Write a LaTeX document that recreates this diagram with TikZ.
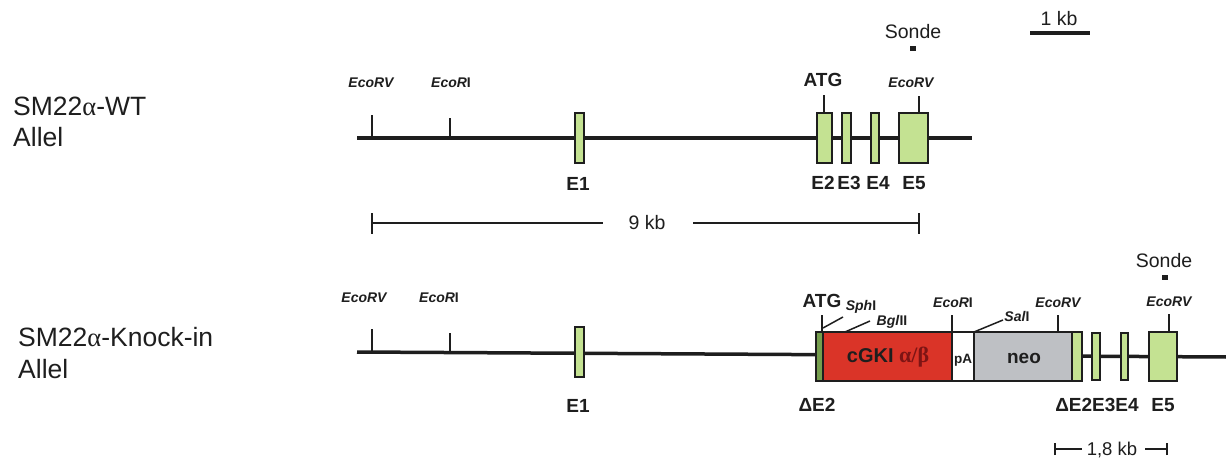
\documentclass[tikz,border=0pt]{standalone}
\usepackage{fontspec}
\setmainfont{Liberation Sans}
\newfontfamily\grk{Liberation Serif}
\definecolor{exg}{RGB}{196,226,146}
\definecolor{exdk}{RGB}{118,158,78}
\definecolor{cgred}{RGB}{218,52,40}
\definecolor{neog}{RGB}{190,192,196}
\definecolor{abred}{RGB}{125,20,20}
\definecolor{txt}{RGB}{30,30,30}
\tikzset{
  dna/.style={line width=3.5pt, draw=txt},
  tick/.style={line width=1.5pt, draw=txt},
  sbar/.style={line width=1.5pt, draw=txt},
  box/.style={draw=txt, line width=1.8pt, inner sep=0pt, outer sep=0pt},
  exon/.style={box, fill=exg},
  exdark/.style={box, fill=exdk},
  lab/.style={font=\fontsize{26.5}{30}\selectfont, anchor=base west, inner sep=0pt, text=txt},
  enz/.style={font=\fontsize{14}{16}\selectfont\bfseries\itshape, anchor=base, inner sep=0pt, text=txt},
  exl/.style={font=\fontsize{19}{22}\selectfont\bfseries, anchor=base, inner sep=0pt, text=txt},
  scl/.style={font=\fontsize{19.5}{22}\selectfont, anchor=base, inner sep=0pt, text=txt},
  probe/.style={fill=txt, inner sep=0pt, minimum width=6pt, minimum height=5pt}
}
\begin{document}
\begin{tikzpicture}[x=1pt,y=-1pt]
\useasboundingbox[fill=white] (0,0) rectangle (1226,470);

% ---------------- left labels
\node[lab] (wt1) at (13,116) {SM22{\grk α}-WT};
\node[lab] (wt2) at (13,147) {Allel};
\node[lab] (ki1) at (18,346) {SM22{\grk α}-Knock-in};
\node[lab] (ki2) at (18,378) {Allel};

% ---------------- scale 1 kb
\node[scl] (kb1) at (1059,26) {1 kb};
\coordinate (kbL) at (1030,33);
\coordinate (kbR) at (1090,33);
\draw[line width=4pt, draw=txt] (kbL) -- (kbR);

% ================= WT allele
\coordinate (wtL) at (357,138);
\coordinate (wtR) at (972,138);
\draw[dna] (wtL) -- (wtR);
% restriction sites
\coordinate (wtRV1) at (372,138);
\coordinate (wtRI1) at (450,138);
\draw[tick] (wtRV1) -- ++(0,-23);
\draw[tick] (wtRI1) -- ++(0,-20);
\node[enz] (wtRV1l) at (371,88) {EcoRV};
\node[enz] (wtRI1l) at (451,88) {EcoR\textup{I}};
% exons
\node[exon, minimum width=9pt, minimum height=50pt] (we1) at (579.5,138) {};
\node[exon, minimum width=15pt, minimum height=50pt] (we2) at (824.5,138) {};
\node[exon, minimum width=9pt, minimum height=50pt] (we3) at (846.5,138) {};
\node[exon, minimum width=8pt, minimum height=50pt] (we4) at (875,138) {};
\node[exon, minimum width=29pt, minimum height=50pt] (we5) at (913.5,138) {};
% ATG & EcoRV
\draw[tick] ([xshift=-0.5pt]we2.north) -- ++(0,-18) coordinate (wATGt);
\node[exl] (wATG) at (823,87) {ATG};
\draw[tick] ([xshift=5.5pt]we5.north) -- ++(0,-17) coordinate (wRV2t);
\node[enz] (wtRV2l) at (911,88) {EcoRV};
\node[scl] (wSonde) at (913,39) {Sonde};
\node[probe] (wProbe) at (913,49) {};
% exon labels
\node[exl] (lwe1) at (578,191) {E1};
\node[exl] (lwe2) at (823,190) {E2};
\node[exl] (lwe3) at (849,190) {E3};
\node[exl] (lwe4) at (878,190) {E4};
\node[exl] (lwe5) at (914,190) {E5};
% 9 kb
\coordinate (n9L) at (372,223);
\coordinate (n9R) at (919,223);
\node[font=\fontsize{19.5}{22}\selectfont, inner sep=0pt, text=txt] (n9) at (647,223) {9 kb};
\draw[sbar] (n9L) -- (603,223);
\draw[sbar] (693,223) -- (n9R);
\draw[sbar] ([yshift=-11pt]n9L) -- ([yshift=10pt]n9L);
\draw[sbar] ([yshift=-11pt]n9R) -- ([yshift=10pt]n9R);

% ================= Knock-in allele
\coordinate (kiL) at (357,352);
\coordinate (kiR) at (1226,357);
\draw[dna] (kiL) -- (kiR);
\coordinate (kRV1) at (372,352);
\coordinate (kRI1) at (450,352);
\draw[tick] (kRV1) -- ++(0,-23);
\draw[tick] (kRI1) -- ++(0,-19);
\node[enz] (kRV1l) at (364,303) {EcoRV};
\node[enz] (kRI1l) at (439,303) {EcoR\textup{I}};
\node[exon, minimum width=9pt, minimum height=50pt] (ke1) at (579.5,352) {};
% cassette
\node[exdark, minimum width=7pt, minimum height=49pt] (kdE2a) at (819.5,356.5) {};
\node[box, fill=cgred, minimum width=129pt, minimum height=49pt] (kcg) at (887.5,356.5) {};
\node[box, fill=white, minimum width=22pt, minimum height=49pt] (kpA) at (963,356.5) {};
\node[box, fill=neog, minimum width=98pt, minimum height=49pt] (kneo) at (1023,356.5) {};
\node[exon, minimum width=10pt, minimum height=49pt] (kdE2b) at (1077,356.5) {};
\node[exon, minimum width=8pt, minimum height=47pt] (ke3) at (1096,356.5) {};
\node[exon, minimum width=7pt, minimum height=47pt] (ke4) at (1124.5,356.5) {};
\node[exon, minimum width=28pt, minimum height=49pt] (ke5) at (1163,356.5) {};
% box texts
\node[font=\fontsize{20}{24}\selectfont\bfseries, anchor=base, inner sep=0pt, text=txt] (tcg) at (888,362) {cGKI {\grk\fontsize{22}{24}\selectfont\color{abred}α/β}};
\node[font=\fontsize{13.5}{16}\selectfont\bfseries, anchor=base, inner sep=0pt, text=txt] (tpA) at (963,363) {pA};
\node[font=\fontsize{19}{22}\selectfont\bfseries, anchor=base, inner sep=0pt, text=txt] (tneo) at (1024,363) {neo};
% sites on cassette
\draw[tick] ([xshift=2.5pt]kdE2a.north) -- ++(0,-17);
\node[exl] (kATG) at (822,308) {ATG};
\coordinate (kSphA) at (823,328);
\draw[tick] (kSphA) -- (843,317);
\node[enz] (kSph) at (861,311) {Sph\textup{I}};
\coordinate (kBglA) at (845,332);
\draw[tick] (kBglA) -- (870,321);
\node[enz] (kBgl) at (892,325) {Bgl\textup{II}};
\draw[tick] (kcg.north east) -- ++(0,-17);
\node[enz] (kRI2l) at (953,308) {EcoR\textup{I}};
\draw[tick] (kneo.north west) -- (1003,320);
\node[enz] (kSal) at (1017,321) {Sal\textup{I}};
\draw[tick] ([xshift=35pt]kneo.north) -- ++(0,-17);
\node[enz] (kRV2l) at (1058,308) {EcoRV};
\draw[tick] ([xshift=6pt]ke5.north) -- ++(0,-18);
\node[enz] (kRV3l) at (1169,306) {EcoRV};
\node[scl] (kSonde) at (1164,268) {Sonde};
\node[probe] (kProbe) at (1165,278) {};
% labels
\node[exl] (lke1) at (578,412) {E1};
\node[exl] (lkdE2a) at (817,411) {ΔE2};
\node[exl] (lkdE2b) at (1097,411) {ΔE2E3E4};
\node[exl] (lke5) at (1163,411) {E5};
% 1,8 kb
\coordinate (n18L) at (1055,449);
\coordinate (n18R) at (1167,449);
\node[font=\fontsize{18.5}{21}\selectfont, anchor=base, inner sep=0pt, text=txt] (n18) at (1112,455) {1,8 kb};
\draw[sbar] (n18L) -- (1082,449);
\draw[sbar] (1145,449) -- (n18R);
\draw[sbar] ([yshift=-6pt]n18L) -- ([yshift=6pt]n18L);
\draw[sbar] ([yshift=-6pt]n18R) -- ([yshift=6pt]n18R);
\end{tikzpicture}
\end{document}
